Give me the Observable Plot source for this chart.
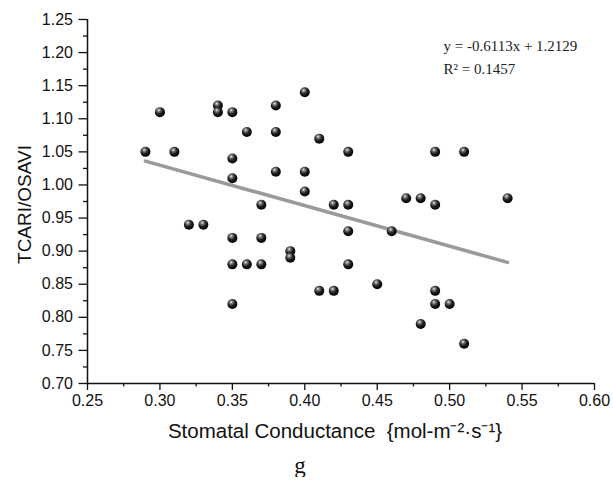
<!DOCTYPE html>
<html>
<head>
<meta charset="utf-8">
<script src="https://cdn.jsdelivr.net/npm/d3@7"></script>
<script src="https://cdn.jsdelivr.net/npm/@observablehq/plot@0.6"></script>
<style>
  html, body { margin: 0; padding: 0; background: #fff; }
  #chart svg { display: block; }
  #cap { width: 600px; text-align: center; font-family: "Liberation Serif", "Times New Roman", serif;
         font-size: 23px; line-height: 23px; padding-top: 4px; color: #111; }
</style>
</head>
<body>
<div id="chart"></div>
<div id="cap">g</div>
<script>
// ---- data ----
const conductance = [0.29, 0.30, 0.31, 0.32, 0.33, 0.34, 0.34, 0.35, 0.35, 0.35, 0.35, 0.35, 0.35,
  0.36, 0.36, 0.37, 0.37, 0.37, 0.38, 0.38, 0.38, 0.39, 0.39, 0.40, 0.40, 0.40, 0.41, 0.41,
  0.42, 0.42, 0.43, 0.43, 0.43, 0.43, 0.45, 0.46, 0.47, 0.48, 0.48, 0.49, 0.49, 0.49, 0.49,
  0.50, 0.51, 0.51, 0.54];
const tcariOsavi = [1.05, 1.11, 1.05, 0.94, 0.94, 1.12, 1.11, 1.11, 1.04, 1.01, 0.92, 0.88, 0.82,
  1.08, 0.88, 0.97, 0.92, 0.88, 1.12, 1.08, 1.02, 0.90, 0.89, 1.14, 1.02, 0.99, 1.07, 0.84,
  0.97, 0.84, 1.05, 0.97, 0.93, 0.88, 0.85, 0.93, 0.98, 0.98, 0.79, 1.05, 0.97, 0.84, 0.82,
  0.82, 1.05, 0.76, 0.98];
const trendX = [0.29, 0.54];
const trendY = [1.036, 0.883];
const xTicks = [0.25, 0.30, 0.35, 0.40, 0.45, 0.50, 0.55, 0.60];
const xMinor = [0.275, 0.325, 0.375, 0.425, 0.475, 0.525, 0.575];
const yTicks = [0.70, 0.75, 0.80, 0.85, 0.90, 0.95, 1.00, 1.05, 1.10, 1.15, 1.20, 1.25];
const yMinor = [0.725, 0.775, 0.825, 0.875, 0.925, 0.975, 1.025, 1.075, 1.125, 1.175, 1.225];
const eqText = "y = -0.6113x + 1.2129\nR\u00B2 = 0.1457";
const xLabel = "Stomatal Conductance \u00A0{mol-m\u207B\u00B2\u00B7s\u207B\u00B9}";
const yLabel = "TCARI/OSAVI";

const points = conductance.map((x, i) => ({x, y: tcariOsavi[i]}));
const trend = trendX.map((x, i) => ({x, y: trendY[i]}));

const chart = Plot.plot({
  width: 613,
  height: 450,
  marginLeft: 87,
  marginRight: 19,
  marginTop: 19,
  marginBottom: 67,
  style: {fontFamily: "'Liberation Sans', Arial, sans-serif", fontSize: "16px", color: "#111", background: "#fff"},
  x: {domain: [0.25, 0.60]},
  y: {domain: [0.70, 1.25]},
  marks: [
    Plot.axisX({ticks: xTicks, tickSize: 7, tickPadding: 4, tickFormat: d => d.toFixed(2), label: null, strokeWidth: 1.3}),
    Plot.axisX({ticks: xMinor, tickSize: 3.5, tickFormat: () => "", label: null, strokeWidth: 1.3}),
    Plot.axisY({ticks: yTicks, tickSize: 8.5, tickPadding: 6, tickFormat: d => d.toFixed(2), label: null, strokeWidth: 1.3}),
    Plot.axisY({ticks: yMinor, tickSize: 4, tickFormat: () => "", label: null, strokeWidth: 1.3}),
    Plot.ruleX([0.25], {stroke: "#111", strokeWidth: 1.5}),
    Plot.ruleY([0.70], {stroke: "#111", strokeWidth: 1.5}),
    Plot.line(trend, {x: "x", y: "y", stroke: "#9a9a9a", strokeWidth: 3.6}),
    Plot.dot(points, {x: "x", y: "y", r: 5, fill: "#111", stroke: "none"}),
    Plot.text([eqText], {frameAnchor: "top-right", textAnchor: "start", lineAnchor: "top", dx: -151, dy: 15,
      lineHeight: 1.55, fontFamily: "'Liberation Serif', 'Times New Roman', serif", fontSize: 15, fill: "#222"}),
    Plot.text([xLabel], {frameAnchor: "bottom", textAnchor: "middle", lineAnchor: "bottom", dx: -6, dy: 54, fontSize: 20.5, fill: "#111"}),
    Plot.text([yLabel], {frameAnchor: "left", textAnchor: "middle", lineAnchor: "middle", rotate: -90, dx: -63, dy: 3, fontSize: 19, fill: "#111"})
  ]
});

document.getElementById("chart").appendChild(chart);

// sphere-like shading on dots
const svg = d3.select(chart.tagName.toLowerCase() === "svg" ? chart : chart.querySelector("svg"));
const defs = svg.insert("defs", ":first-child");
const grad = defs.append("radialGradient").attr("id", "sphereGrad")
  .attr("cx", "0.4").attr("cy", "0.33").attr("r", "0.7").attr("fx", "0.38").attr("fy", "0.3");
grad.append("stop").attr("offset", "0%").attr("stop-color", "#f0f0f0");
grad.append("stop").attr("offset", "22%").attr("stop-color", "#7a7a7a");
grad.append("stop").attr("offset", "55%").attr("stop-color", "#1c1c1c");
grad.append("stop").attr("offset", "100%").attr("stop-color", "#000");
svg.selectAll("circle").attr("fill", "url(#sphereGrad)");
</script>
</body>
</html>
